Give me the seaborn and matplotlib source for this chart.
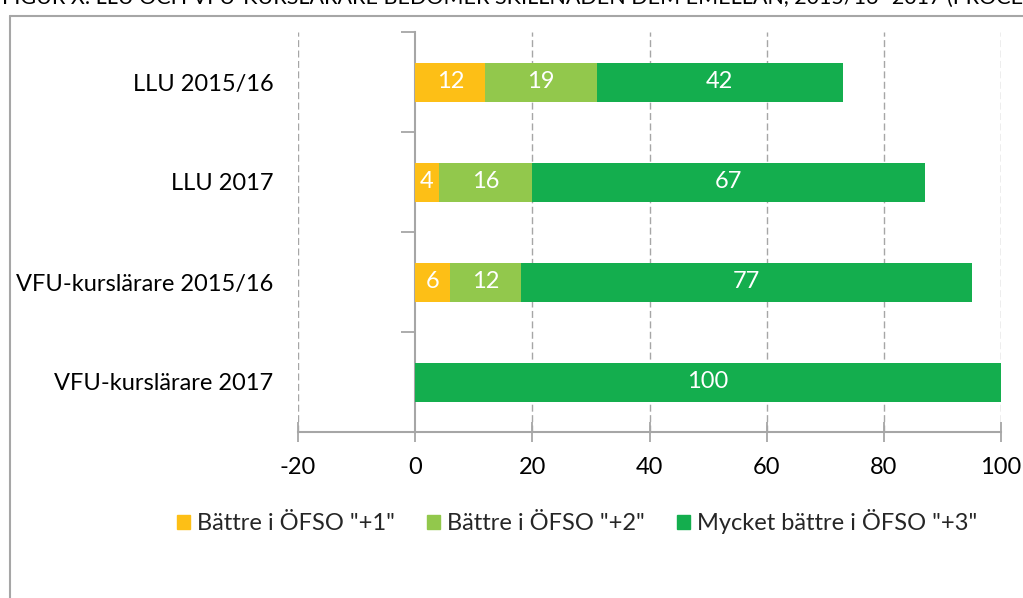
import pandas as pd
import matplotlib.pyplot as plt
import seaborn as sns
from matplotlib.patches import Rectangle

# Data (percent)
kategorier = ['LLU 2015/16', 'LLU 2017', 'VFU-kurslärare 2015/16', 'VFU-kurslärare 2017']
plus1 = [12, 4, 6, 0]
plus2 = [19, 16, 12, 0]
plus3 = [42, 67, 77, 100]
serier = ['Bättre i ÖFSO "+1"', 'Bättre i ÖFSO "+2"', 'Mycket bättre i ÖFSO "+3"']
farger = ['#FDBF16', '#92C84C', '#14AE4E']
xticks = [-20, 0, 20, 40, 60, 80, 100]
titel = 'FIGUR X. LLU OCH VFU-KURSLÄRARE BEDÖMER SKILLNADEN DEM EMELLAN, 2015/16- 2017 (PROCENT)'

sns.set_theme(style='white')
plt.rcParams['font.family'] = ['Lato', 'DejaVu Sans']
fs = 17

df = pd.DataFrame({'kat': kategorier, 'p1': plus1, 'p2': plus2, 'p3': plus3})
df['c1'] = df['p1']
df['c2'] = df['p1'] + df['p2']
df['c3'] = df['c2'] + df['p3']

fig = plt.figure(figsize=(10.23, 5.98), dpi=100)
ax = fig.add_axes([298 / 1023, 1 - 432 / 598, (1001 - 298) / 1023, 400 / 598])

# stacked bars: draw cumulative totals from widest to narrowest
for col, farg in zip(['c3', 'c2', 'c1'], farger[::-1]):
    sns.barplot(data=df, x=col, y='kat', orient='y', color=farg, width=0.39,
                saturation=1, ax=ax, zorder=3, linewidth=0)

# value labels
for i, row in df.iterrows():
    start = 0
    for col in ['p1', 'p2', 'p3']:
        v = row[col]
        if v > 0:
            ax.text(start + v / 2, i, f'{v}', ha='center', va='center',
                    color='white', fontsize=fs, zorder=4)
        start += v

ax.set_xlim(-20, 100)
ax.set_ylim(3.5, -0.5)
ax.set_xlabel('')
ax.set_ylabel('')

grau = '#A6A6A6'
for s in ['top', 'right']:
    ax.spines[s].set_visible(False)
ax.spines['left'].set_position(('data', 0))
ax.spines['left'].set_color(grau)
ax.spines['left'].set_linewidth(1.5)
ax.spines['bottom'].set_color(grau)
ax.spines['bottom'].set_linewidth(1.5)

ax.set_xticks(xticks)
ax.set_xticklabels([str(t) for t in xticks])
ax.tick_params(axis='x', direction='inout', length=14, width=1.3, color=grau,
               labelsize=fs, labelcolor='black', pad=11, bottom=True)
ax.set_yticks(range(len(kategorier)))
ax.set_yticklabels(kategorier)
ax.tick_params(axis='y', which='major', length=0, labelsize=fs,
               labelcolor='black', pad=102)
ax.set_yticks([-0.5, 0.5, 1.5, 2.5, 3.5], minor=True)
ax.tick_params(axis='y', which='minor', direction='out', length=10, width=1.3,
               color=grau, left=True)

for t in xticks:
    if t != 0:
        ax.axvline(t, color=grau, linestyle=(0, (5, 2.5)), linewidth=1.0, zorder=1)

# legend
handles = [Rectangle((0, 0), 1, 1, color=c) for c in farger]
fig.legend(handles, serier, loc='center', bbox_to_anchor=(577 / 1023, 1 - 522 / 598),
           ncol=3, frameon=False, fontsize=fs, handlelength=0.55, handleheight=0.55,
           handletextpad=0.3, columnspacing=1.35)

# outer chart border and cropped caption
fig.add_artist(plt.Line2D([9.5 / 1023, 9.5 / 1023], [0, 1 - 16 / 598], color=grau,
                          linewidth=1.5, transform=fig.transFigure))
fig.add_artist(plt.Line2D([9.5 / 1023, 1], [1 - 16 / 598, 1 - 16 / 598], color=grau,
                          linewidth=1.5, transform=fig.transFigure))
fig.text(2 / 1023, 1 - 3.5 / 598, titel, fontsize=15.5, ha='left', va='baseline', color='black')

fig.savefig('out.png', dpi=100)
